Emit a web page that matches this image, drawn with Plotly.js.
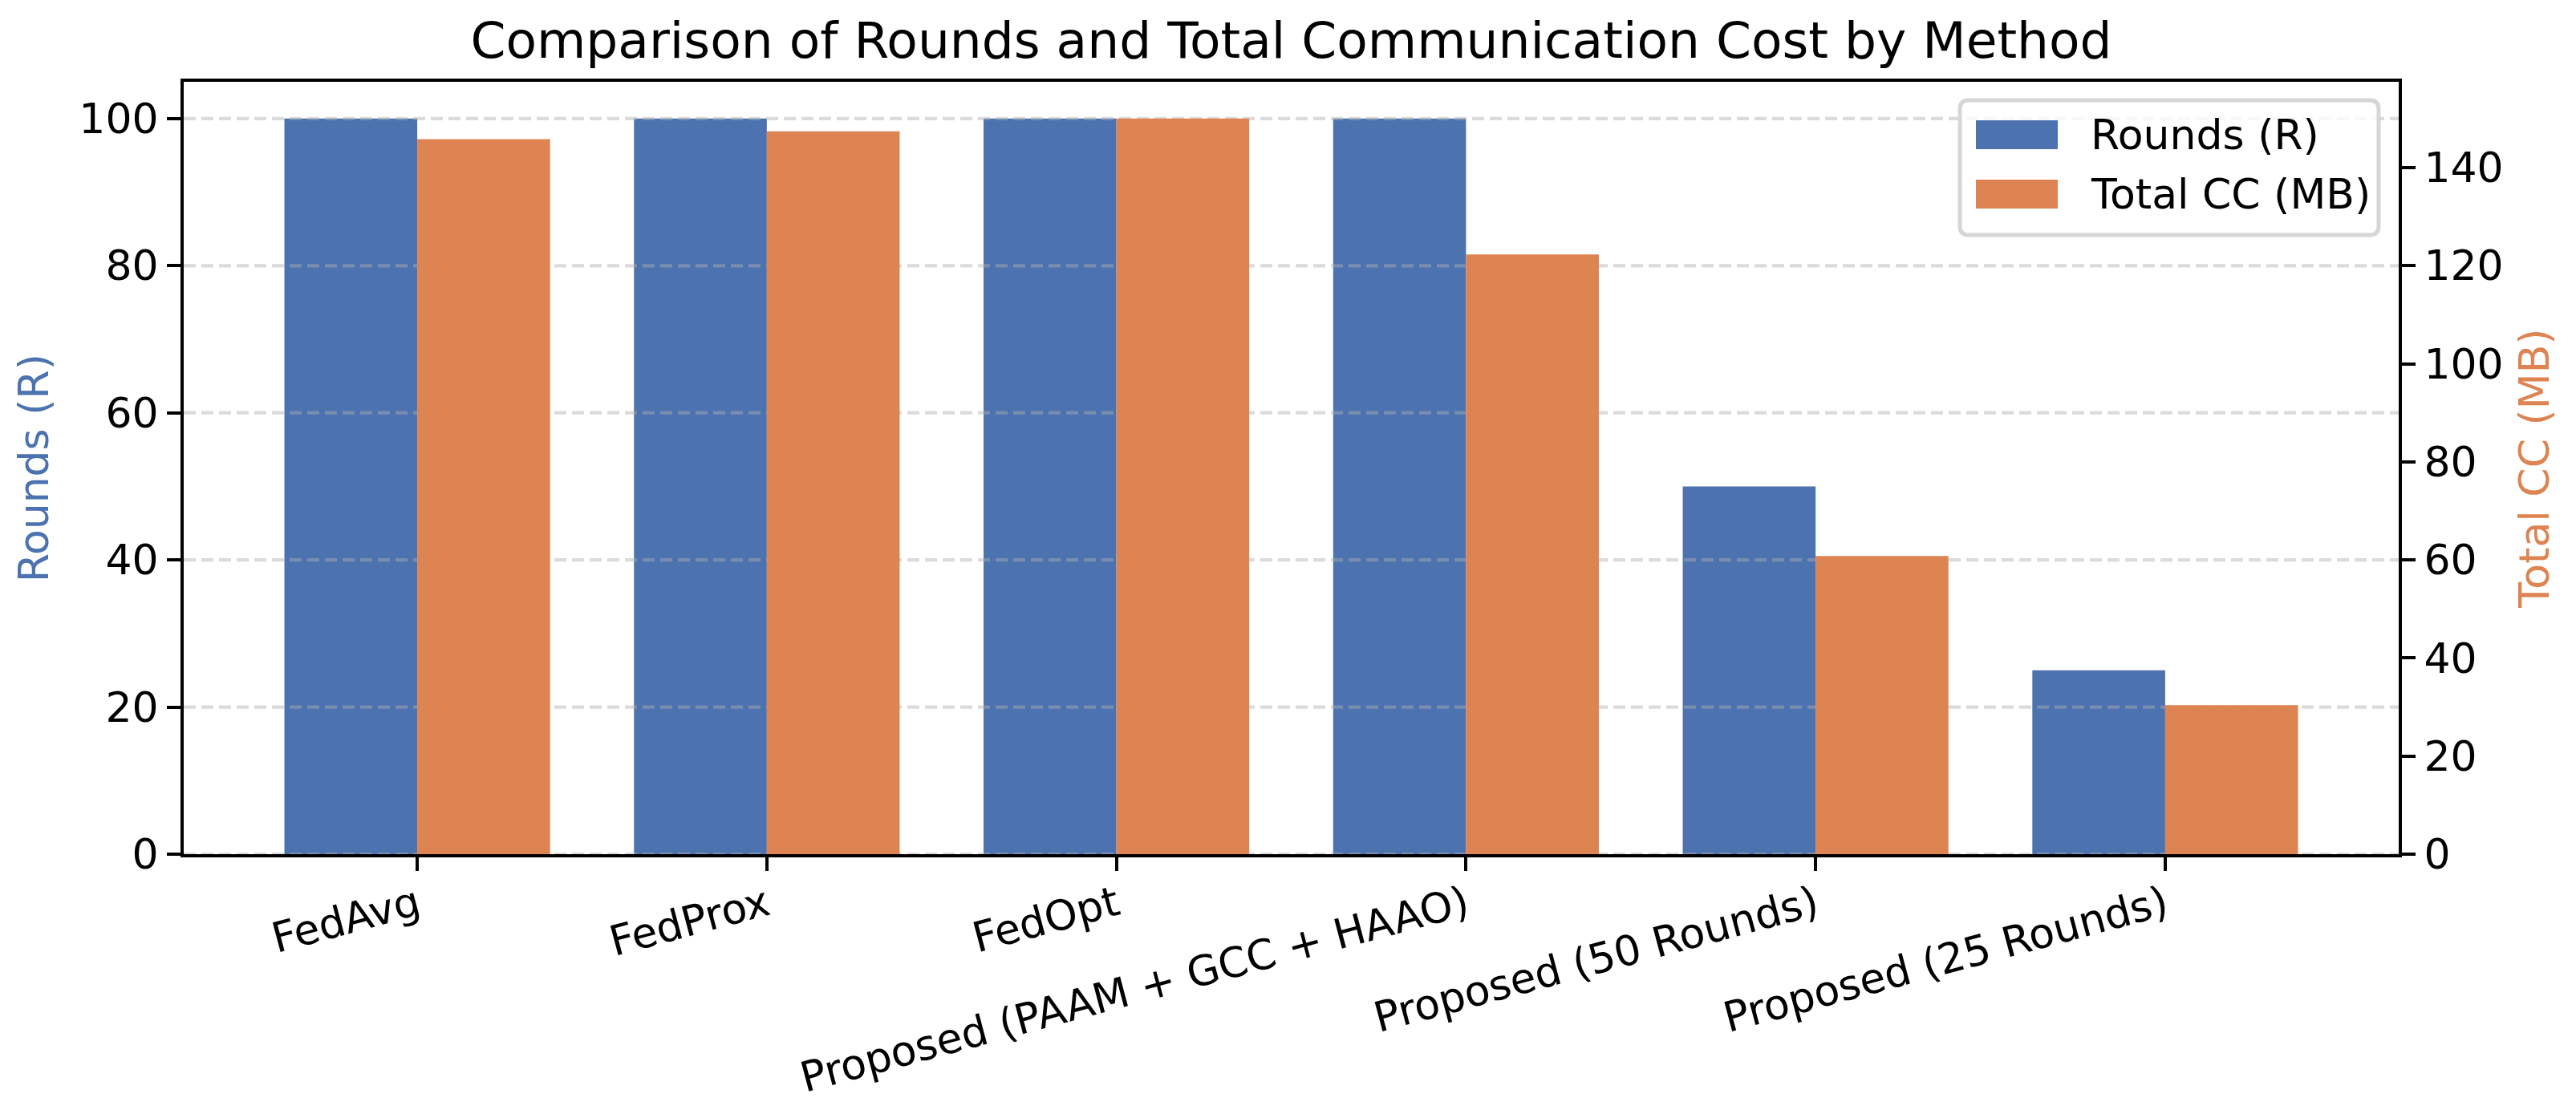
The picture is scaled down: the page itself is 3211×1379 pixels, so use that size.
<!DOCTYPE html>
<html>
<head>
<meta charset="utf-8">
<script src="https://cdn.plot.ly/plotly-3.0.1.min.js"></script>
<style>
  html, body { margin: 0; padding: 0; background: #fff; }
  #chart { width: 3211px; height: 1379px; }
</style>
</head>
<body>
<div id="chart"></div>
<script>
// values
var methods = ['FedAvg', 'FedProx', 'FedOpt', 'Proposed (PAAM + GCC + HAAO)',
               'Proposed (50 Rounds)', 'Proposed (25 Rounds)'];
var rounds = [100, 100, 100, 100, 50, 25];
var totalCC = [145.8, 147.4, 150, 122.3, 60.8, 30.4];

var roundTicks = [0, 20, 40, 60, 80, 100];
var ccTicks = [0, 20, 40, 60, 80, 100, 120, 140];

var blue = '#4c72b0';
var orange = '#dd8452';
var font = 'DejaVu Sans, Liberation Sans, sans-serif';

// geometry (pixels) of the plot area
var W = 3211, H = 1379;
var L = 229, R = 2990, T = 102, B = 1065;
var barW = 0.38;
var xRange = [-0.668, 5.668];

var xIdx = methods.map(function (m, i) { return i; });

// dashed grid of the left axis, drawn above the blue bars and below the orange ones
var gx = [], gy = [];
roundTicks.forEach(function (v) {
  gx.push(xRange[0], xRange[1], null);
  gy.push(v, v, null);
});

var data = [
  {
    type: 'bar', name: 'Rounds (R)', x: xIdx, y: rounds,
    width: barW, offset: -barW,
    marker: {color: blue, line: {width: 0}},
    xaxis: 'x', yaxis: 'y', hoverinfo: 'x+y'
  },
  {
    type: 'scatter', mode: 'lines', x: gx, y: gy,
    line: {color: 'rgba(176,176,176,0.45)', width: 4.2, dash: '15px,7px'},
    xaxis: 'x', yaxis: 'y', hoverinfo: 'skip', showlegend: false
  },
  {
    type: 'bar', name: 'Total CC (MB)', x: xIdx, y: totalCC,
    width: barW, offset: 0,
    marker: {color: orange, line: {width: 0}},
    xaxis: 'x', yaxis: 'y2', hoverinfo: 'x+y'
  }
];

// hand-made legend in matplotlib style
function px(xp) { return (xp - L) / (R - L); }
function py(yp) { return (B - yp) / (B - T); }
function roundedBox(x0, y0, x1, y1, r) {
  return 'M' + px(x0 + r) + ',' + py(y0) +
    ' L' + px(x1 - r) + ',' + py(y0) +
    ' Q' + px(x1) + ',' + py(y0) + ' ' + px(x1) + ',' + py(y0 + r) +
    ' L' + px(x1) + ',' + py(y1 - r) +
    ' Q' + px(x1) + ',' + py(y1) + ' ' + px(x1 - r) + ',' + py(y1) +
    ' L' + px(x0 + r) + ',' + py(y1) +
    ' Q' + px(x0) + ',' + py(y1) + ' ' + px(x0) + ',' + py(y1 - r) +
    ' L' + px(x0) + ',' + py(y0 + r) +
    ' Q' + px(x0) + ',' + py(y0) + ' ' + px(x0 + r) + ',' + py(y0) + ' Z';
}
var legItems = [
  {label: 'Rounds (R)', color: blue, y0: 150, y1: 186},
  {label: 'Total CC (MB)', color: orange, y0: 224, y1: 260}
];
var shapes = [{
  type: 'path', xref: 'paper', yref: 'paper', layer: 'above',
  path: roundedBox(2443, 125, 2965, 293, 11),
  fillcolor: 'rgba(255,255,255,0.8)', line: {color: '#d6d6d6', width: 5}
}];
var annotations = [];
legItems.forEach(function (it) {
  shapes.push({
    type: 'rect', xref: 'paper', yref: 'paper', layer: 'above',
    x0: px(2463), x1: px(2565), y0: py(it.y1), y1: py(it.y0),
    fillcolor: it.color, line: {width: 0}
  });
  annotations.push({
    xref: 'paper', yref: 'paper', x: px(2604), y: py((it.y0 + it.y1) / 2),
    xanchor: 'left', yanchor: 'middle', showarrow: false, text: it.label,
    font: {family: font, size: 52, color: '#000'}
  });
});

var layout = {
  width: W, height: H, autosize: false,
  margin: {l: L, r: W - R, t: T, b: H - B, pad: 0},
  paper_bgcolor: '#fff', plot_bgcolor: '#fff',
  font: {family: font, size: 52, color: '#000'},
  showlegend: false,
  barmode: 'overlay',
  title: {
    text: 'Comparison of Rounds and Total Communication Cost by Method',
    font: {family: font, size: 63, color: '#000'},
    x: (L + R) / 2 / W, xanchor: 'center', xref: 'container',
    y: 1 - 50 / H, yanchor: 'middle', yref: 'container'
  },
  xaxis: {
    range: xRange, tickmode: 'array', tickvals: xIdx, ticktext: methods,
    tickangle: -15, ticks: 'outside', ticklen: 17, tickwidth: 4, tickcolor: '#000',
    ticklabelstandoff: -8,
    tickfont: {family: font, size: 52, color: '#000'},
    showline: true, linecolor: '#000', linewidth: 4, mirror: true,
    showgrid: false, zeroline: false, fixedrange: true
  },
  yaxis: {
    range: [0, 105], tickmode: 'array', tickvals: roundTicks,
    ticks: 'outside', ticklen: 17, tickwidth: 4, tickcolor: '#000',
    tickfont: {family: font, size: 52, color: '#000'},
    showline: true, linecolor: '#000', linewidth: 4,
    showgrid: false, zeroline: false,
    title: {text: 'Rounds (R)', font: {family: font, size: 52, color: blue}, standoff: 22}
  },
  yaxis2: {
    range: [0, 157.5], tickmode: 'array', tickvals: ccTicks,
    overlaying: 'y', side: 'right',
    ticks: 'outside', ticklen: 17, tickwidth: 4, tickcolor: '#000',
    tickfont: {family: font, size: 52, color: '#000'},
    showline: true, linecolor: '#000', linewidth: 4,
    showgrid: false, zeroline: false,
    title: {text: 'Total CC (MB)', font: {family: font, size: 52, color: orange}, standoff: 22}
  },
  shapes: shapes,
  annotations: annotations
};

Plotly.newPlot('chart', data, layout, {displayModeBar: false, staticPlot: true});
</script>
</body>
</html>
